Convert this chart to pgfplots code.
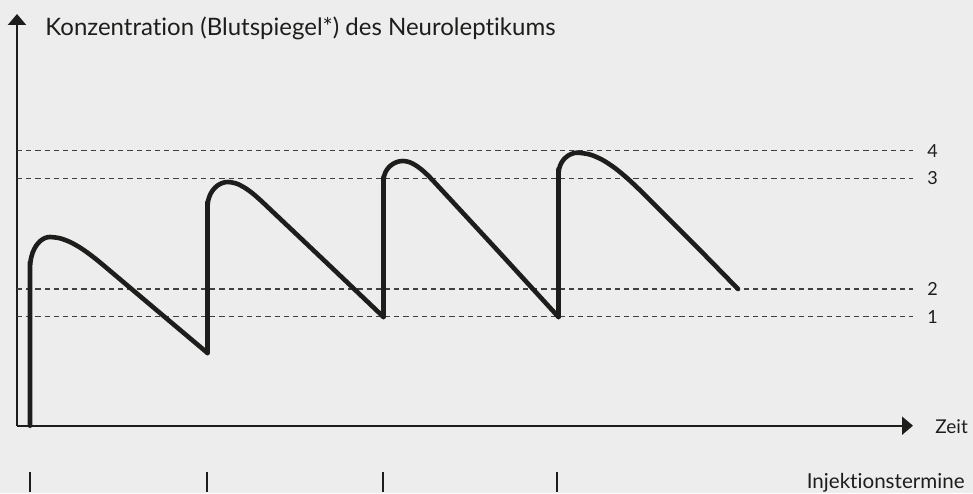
\documentclass[border=0pt]{standalone}
\usepackage{fontspec}
\setmainfont{Lato}[Ligatures=NoCommon]
\usepackage{pgfplots}
\pgfplotsset{compat=1.18}
\usetikzlibrary{arrows.meta,backgrounds}
\definecolor{bg}{HTML}{EDEDED}
\definecolor{ink}{HTML}{1D1D1B}
\definecolor{dsh}{HTML}{404040}
\begin{document}
\begin{tikzpicture}
\begin{axis}[
  scale only axis, width=448pt, height=205.85pt,
  xmin=17, xmax=913, ymin=67.3, ymax=479,
  axis lines=left,
  axis line style={line width=1.1pt, ink, -{Triangle[length=5.5pt,width=9pt]}},
  xtick=\empty, ytick=\empty, clip=false,
  curve/.style={ink, line width=2.3pt, smooth, line cap=round, line join=round},
  level/.style={dsh, line width=0.6pt, dash pattern=on 2.6pt off 2pt},
]
\coordinate (bl) at (axis cs:0,0);
\coordinate (tr) at (axis cs:973,493);
% reference levels 1-4
\addplot[level] coordinates {(17,342.3) (913,342.3)};
\addplot[level] coordinates {(17,314.7) (913,314.7)};
\addplot[level] coordinates {(17,204) (913,204)};
\addplot[level] coordinates {(17,176.3) (913,176.3)};
% concentration curve
\addplot[curve] coordinates {
 (30,67.3) (30,220) (30,225) (30.7,233.0) (32.7,240.5) (35.9,246.9) (40,251.8) (44.8,254.9) (50,256)
 (60,254.7) (70,251.0) (80,245.45) (90,238.5) (100,230.6) (110,222.2) (160,180.0) (207.5,140)};
\addplot[curve] coordinates {
 (207.5,140) (207.5,281) (207.5,286) (208.2,292.5) (210.2,298.5) (213.5,303.7) (217.75,307.65) (222.7,310.15) (228,311)
 (236,309.6) (244,305.7) (252,300.1) (260,293.2) (268,285.7) (326,230.8) (383.5,176)};
\addplot[curve] coordinates {
 (383.5,176) (383.5,307) (383.5,312) (384.2,317.2) (386.1,322) (389.2,326.1) (393.25,329.3) (398,331.3) (403,332)
 (409,331.0) (415,328.1) (421,323.85) (427,318.5) (433,312.4) (439,305.9) (499,241) (558.5,176)};
\addplot[curve] coordinates {
 (558.5,176) (558.5,314) (558.5,319) (559.2,324.5) (561.1,329.65) (564.2,334.06) (568.25,337.45) (573,339.6) (578,340.3)
 (590.5,338.3) (603,332.8) (615.5,324.5) (628,314.1) (640.5,302.3) (653,289.8) (696,246.9) (738,204)};
% injection dates
\addplot[ink, line width=1.1pt] coordinates {(30,1) (30,21)};
\addplot[ink, line width=1.1pt] coordinates {(207,1) (207,21)};
\addplot[ink, line width=1.1pt] coordinates {(383,1) (383,21)};
\addplot[ink, line width=1.1pt] coordinates {(557,1) (557,21)};
% labels
\node[anchor=base west, inner sep=0pt, text=ink, font=\fontsize{12}{14}\selectfont] at (axis cs:45,457) {Konzentration (Blutspiegel*) des Neuroleptikums};
\node[anchor=west, inner sep=0pt, text=ink, font=\fontsize{9}{11}\selectfont] at (axis cs:927,342.3) {4};
\node[anchor=west, inner sep=0pt, text=ink, font=\fontsize{9}{11}\selectfont] at (axis cs:927,314.7) {3};
\node[anchor=west, inner sep=0pt, text=ink, font=\fontsize{9}{11}\selectfont] at (axis cs:927,204) {2};
\node[anchor=west, inner sep=0pt, text=ink, font=\fontsize{9}{11}\selectfont] at (axis cs:927,176.3) {1};
\node[anchor=base west, inner sep=0pt, text=ink, font=\fontsize{9.5}{11}\selectfont] at (axis cs:935,60) {Zeit};
\node[anchor=base east, inner sep=0pt, text=ink, font=\fontsize{10.3}{12}\selectfont] at (axis cs:965,5) {Injektionstermine};
\end{axis}
\begin{scope}[on background layer]
\fill[bg] (bl) rectangle (tr);
\end{scope}
\end{tikzpicture}
\end{document}
